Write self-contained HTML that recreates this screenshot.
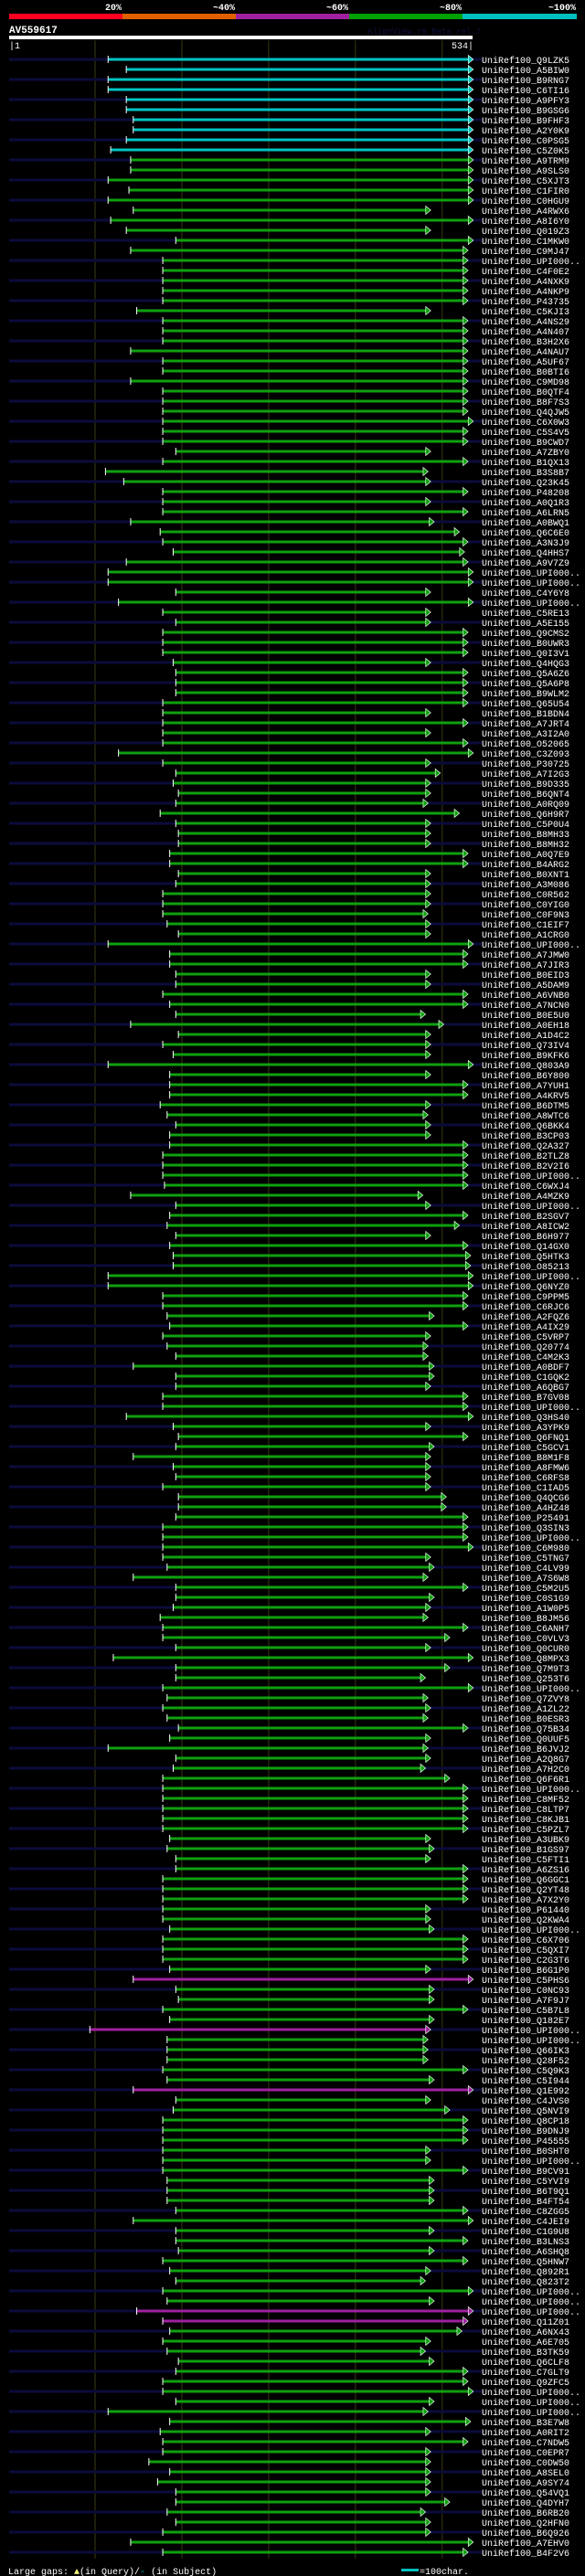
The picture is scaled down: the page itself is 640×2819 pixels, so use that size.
<!DOCTYPE html>
<html><head><meta charset="utf-8">
<style>
html,body{margin:0;padding:0;background:#000;}
svg{display:block;}
text{font-family:"Liberation Mono",monospace;}
</style></head>
<body>
<svg id="chart" width="640" height="2819" viewBox="0 0 640 2819" xmlns="http://www.w3.org/2000/svg">
<rect x="0" y="0" width="640" height="2819" fill="#000"/>
<g>
<rect x="10" y="15" width="124" height="6" fill="#ff0020"/>
<rect x="134" y="15" width="124" height="6" fill="#e06000"/>
<rect x="258" y="15" width="124" height="6" fill="#a020a0"/>
<rect x="382" y="15" width="124" height="6" fill="#00a000"/>
<rect x="506" y="15" width="125" height="6" fill="#00c0c0"/>
<text x="133" y="11" fill="#fff" font-size="10" font-weight="bold" text-anchor="end">20%</text>
<text x="257" y="11" fill="#fff" font-size="10" font-weight="bold" text-anchor="end">~40%</text>
<text x="381" y="11" fill="#fff" font-size="10" font-weight="bold" text-anchor="end">~60%</text>
<text x="505" y="11" fill="#fff" font-size="10" font-weight="bold" text-anchor="end">~80%</text>
<text x="630" y="11" fill="#fff" font-size="10" font-weight="bold" text-anchor="end">~100%</text>
</g>
<text x="10" y="36" fill="#fff" font-size="11" font-weight="bold">AV559617</text>
<text x="402" y="37" fill="#101040" font-size="9">AlignView.rm Beta rel.7</text>
<rect x="10" y="39" width="507" height="4" fill="#fff"/>
<text x="10" y="53" fill="#fff" font-size="10">|1</text>
<text x="518" y="53" fill="#fff" font-size="10" text-anchor="end">534|</text>
<g id="grid"></g>
<g id="rows"></g>
<text x="9" y="2817" fill="#fff" font-size="10">Large gaps: <tspan fill="#ffff80">▲</tspan>(in Query)/<tspan fill="#00c0c0">-</tspan> (in Subject)</text>
<rect x="439" y="2811" width="19" height="3" fill="#00c0c0"/>
<text x="459" y="2817" fill="#fff" font-size="10">=100char.</text>
</svg>
<script>
const queryLength = 534;
const gridTicks = [100, 200, 300, 400, 500];
const hitLabels = ["Q9LZK5","A5BIW0","B9RNG7","C6TI16","A9PFY3","B9GSG6","B9FHF3","A2Y0K9","C0PSG5","C5Z0K5","A9TRM9","A9SLS0","C5XJT3","C1FIR0","C0HGU9","A4RWX6","A8I6Y0","Q019Z3","C1MKW0","C9MJ47","UPI000..","C4F0E2","A4NXK9","A4NKP9","P43735","C5KJI3","A4NS29","A4N407","B3H2X6","A4NAU7","A5UF67","B0BTI6","C9MD98","B0QTF4","B8F7S3","Q4QJW5","C6X0W3","C5S4V5","B9CWD7","A7ZBY0","B1QX13","B3S8B7","Q23K45","P48208","A0Q1R3","A6LRN5","A0BWQ1","Q6C6E0","A3N3J9","Q4HHS7","A9V7Z9","UPI000..","UPI000..","C4Y6Y8","UPI000..","C5RE13","A5E155","Q9CMS2","B0UWR3","Q0I3V1","Q4HQG3","Q5A6Z6","Q5A6P8","B9WLM2","Q65U54","B1BDN4","A7JRT4","A3I2A0","O52065","C3Z093","P30725","A7I2G3","B9D335","B6QNT4","A0RQ09","Q6H9R7","C5P0U4","B8MH33","B8MH32","A0Q7E9","B4ARG2","B0XNT1","A3M086","C0R562","C0YIG0","C0F9N3","C1EIF7","A1CRG0","UPI000..","A7JMW0","A7JIR3","B0EID3","A5DAM9","A6VNB0","A7NCN0","B0E5U0","A0EH18","A1D4C2","Q73IV4","B9KFK6","Q803A9","B6Y800","A7YUH1","A4KRV5","B6DTM5","A8WTC6","Q6BKK4","B3CP03","Q2A327","B2TLZ8","B2V2I6","UPI000..","C6WXJ4","A4MZK9","UPI000..","B2SGV7","A8ICW2","B6H977","Q14GX0","Q5HTK3","O85213","UPI000..","Q6NYZ0","C9PPM5","C6RJC6","A2FQZ6","A4IX29","C5VRP7","Q20774","C4M2K3","A0BDF7","C1GQK2","A6QBG7","B7GV08","UPI000..","Q3HS40","A3YPK9","Q6FNQ1","C5GCV1","B8M1F8","A8FMW6","C6RFS8","C1IAD5","Q4QCG6","A4HZ48","P25491","Q3SIN3","UPI000..","C6M980","C5TNG7","C4LV99","A7S6W8","C5M2U5","C0S1G9","A1W0P5","B8JM56","C6ANH7","C0VLV3","Q0CUR0","Q8MPX3","Q7M9T3","Q253T6","UPI000..","Q7ZVY8","A1ZL22","B0ESR3","Q75B34","Q0UUF5","B6JVJ2","A2Q8G7","A7H2C0","Q6F6R1","UPI000..","C8MF52","C8LTP7","C8KJB1","C5PZL7","A3UBK9","B1GS97","C5FTI1","A6ZS16","Q6GGC1","Q2YT48","A7X2Y0","P61440","Q2KWA4","UPI000..","C6X706","C5QXI7","C2G3T6","B6G1P0","C5PHS6","C0NC93","A7F9J7","C5B7L8","Q182E7","UPI000..","UPI000..","Q66IK3","Q28F52","C5Q9K3","C5I944","Q1E992","C4JVS0","Q5NVI9","Q8CP18","B9DNJ9","P45555","B0SHT0","UPI000..","B9CV91","C5YVI9","B6T9Q1","B4FT54","C8ZGG5","C4JEI9","C1G9U8","B3LNS3","A6SHQ8","Q5HNW7","Q892R1","Q823T2","UPI000..","UPI000..","UPI000..","Q11Z01","A6NX43","A6E705","B3TK59","Q6CLF8","C7GLT9","Q9ZFC5","UPI000..","UPI000..","UPI000..","B3E7W8","A0RIT2","C7NDW5","C0EPR7","C0DW50","A8SEL0","A9SY74","Q54VQ1","Q4DYH7","B6RB20","Q2HFN0","B6Q926","A7EHV0","B4F2V6"];
const hitStarts = [115,136,115,115,136,136,144,144,136,118,
141,141,115,139,115,144,118,136,193,141,
178,178,178,178,178,148,178,178,178,141,
178,178,141,178,178,178,178,178,178,193,
178,112,133,178,178,178,141,175,178,190,
136,115,115,193,127,178,193,178,178,178,
190,193,193,193,178,178,178,178,178,127,
178,193,190,196,193,175,193,196,196,186,
186,196,193,178,178,178,183,196,115,186,
186,193,193,178,186,193,141,196,178,190,
115,186,186,186,175,183,193,186,186,178,
178,178,180,141,193,186,183,193,186,190,
190,115,115,178,178,183,186,178,183,193,
144,193,193,178,178,136,190,196,193,144,
190,193,178,196,196,193,178,178,178,178,
183,144,193,193,190,175,178,178,193,121,
193,193,178,183,178,183,196,186,115,193,
190,178,178,178,178,178,178,186,183,193,
193,178,178,178,178,178,186,178,178,178,
186,144,193,196,178,186,94,183,183,183,
178,183,144,193,190,178,178,178,178,178,
178,183,183,183,193,144,193,193,196,178,
186,193,178,183,148,178,186,178,183,196,
193,178,178,193,115,186,175,178,178,162,
186,172,193,193,183,193,178,141,178];
const hitEnds = [530,530,530,530,530,530,530,530,530,530,
530,530,530,530,530,481,530,481,530,524,
524,524,524,524,524,481,524,524,524,524,
524,524,524,524,524,524,530,524,524,481,
524,478,481,524,481,524,485,514,524,520,
524,530,530,481,530,481,481,524,524,524,
481,524,524,524,524,481,524,481,524,530,
481,492,481,481,478,514,481,481,481,524,
524,481,481,481,481,478,481,481,530,524,
524,481,481,524,524,475,496,481,481,481,
530,481,524,524,481,478,481,481,524,524,
524,524,524,472,481,524,514,481,524,527,
527,530,530,524,524,485,524,481,478,478,
485,485,481,524,524,530,481,524,485,481,
481,481,481,499,499,524,524,524,530,481,
485,478,524,485,481,478,524,503,481,530,
503,475,530,478,481,478,524,481,478,481,
475,503,524,524,524,524,524,481,485,481,
524,524,524,524,481,481,485,524,524,524,
481,530,485,485,524,485,481,478,478,478,
524,485,530,481,503,524,524,524,481,481,
524,485,485,485,524,530,485,524,485,524,
481,475,530,485,530,524,517,481,475,485,
524,524,530,485,478,527,481,524,481,481,
481,481,481,503,475,481,481,530,524];
const cyanRows = [0,1,2,3,4,5,6,7,8,9];
const magentaRows = [191,196,202,224,225];

const NS = "http://www.w3.org/2000/svg";
const X0 = 10, PXPER = 0.9495, ROW0 = 65, ROWH = 11;
function xScale(q){ return X0 + (q - 1) * PXPER; }
function yScale(i){ return ROW0 + i * ROWH; }
function mk(tag, attrs){ const e = document.createElementNS(NS, tag); for (const k in attrs) e.setAttribute(k, attrs[k]); return e; }

const grid = document.getElementById('grid');
gridTicks.forEach(t => {
  const l = mk('line', {x1: xScale(t), x2: xScale(t), y1: 44, y2: 2800, stroke: '#3a3a12', 'stroke-width': 1});
  
  
  grid.appendChild(l);
});

const rows = document.getElementById('rows');
hitLabels.forEach((lab, i) => {
  const y = yScale(i);
  const g = mk('g', {});
  
  
  if (i % 2 === 0) {
    const s = mk('rect', {x: 10, y: y - 1.5, width: 517, height: 3, fill: '#0b0b3c'});
    
    
    g.appendChild(s);
  }
  const col = cyanRows.includes(i) ? '#00c4c4' : (magentaRows.includes(i) ? '#a020a0' : '#0fa00f');
  const x1 = xScale(hitStarts[i]), x2 = xScale(hitEnds[i]);
  const b = mk('rect', {x: x1, y: y - 1.5, width: x2 - x1, height: 3, fill: col});
  
  
  g.appendChild(b);
  const tk = mk('rect', {x: x1 - 0.5, y: y - 4, width: 1, height: 8, fill: '#fff'});
  
  
  g.appendChild(tk);
  const ar = mk('polygon', {points: `${x2},${y-4.5} ${x2+5.5},${y} ${x2},${y+4.5}`, fill: col, stroke: '#e8ffe8', 'stroke-width': 0.7});
  
  
  g.appendChild(ar);
  const t = mk('text', {x: 527, y: y + 4, fill: '#fff', 'font-size': 10});
  
  
  t.textContent = 'UniRef100_' + lab;
  g.appendChild(t);
  rows.appendChild(g);
});
</script>
</body></html>
